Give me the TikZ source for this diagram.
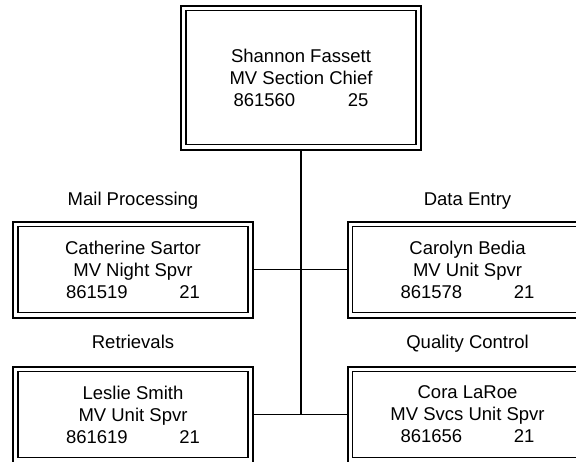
\documentclass[tikz,border=0pt]{standalone}
\usepackage{fontspec}
\setmainfont{Liberation Sans}
\begin{document}
\begin{tikzpicture}[x=1pt,y=-1pt,
  every node/.style={font=\fontsize{18.5}{22}\selectfont},
  person/.style={draw, line width=2pt, minimum width=240pt, minimum height=96pt,
    align=center, inner sep=0pt, outer sep=0pt},
  innerframe/.style={line width=1.1pt},
  link/.style={line width=1.8pt},
  unitlabel/.style={anchor=base, inner sep=0pt}]
\useasboundingbox (0,0) rectangle (576,461);
\node[person, minimum height=144pt] (top) at (301,77.5)
  {Shannon Fassett\\MV Section Chief\\\makebox[135pt]{861560\hfill 25}};
\node[person] (mail) at (133,269.5)
  {Catherine Sartor\\MV Night Spvr\\\makebox[134pt]{861519\hfill 21}};
\node[person] (data) at (467.5,269.5)
  {Carolyn Bedia\\MV Unit Spvr\\\makebox[134pt]{861578\hfill 21}};
\node[person] (retr) at (133,414.5)
  {Leslie Smith\\MV Unit Spvr\\\makebox[134pt]{861619\hfill 21}};
\node[person] (qc) at (467.5,414.5)
  {Cora LaRoe\\MV Svcs Unit Spvr\\\makebox[134pt]{861656\hfill 21}};
\foreach \n in {top,mail,data,retr,qc}
  \draw[innerframe] ([xshift=5pt,yshift=-5pt]\n.north west) rectangle ([xshift=-5pt,yshift=5pt]\n.south east);
\node[unitlabel] (lmail) at (133,205) {Mail Processing};
\node[unitlabel] (ldata) at (467.5,205) {Data Entry};
\node[unitlabel] (lretr) at (133,348) {Retrievals};
\node[unitlabel] (lqc) at (467.5,348) {Quality Control};
\coordinate (j2) at (top.south |- retr.east);
\draw[link] (top.south) -- (j2);
\draw[link] (mail.east) -- (data.west);
\draw[link] (retr.east) -- (qc.west);
\end{tikzpicture}
\end{document}
